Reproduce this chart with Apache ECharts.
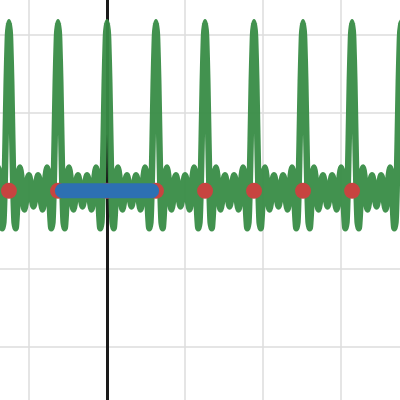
<!DOCTYPE html>
<html>
<head>
<meta charset="utf-8">
<script src="https://cdn.jsdelivr.net/npm/echarts@6/dist/echarts.min.js"></script>
<style>html,body{margin:0;padding:0;background:#fff}#c{width:400px;height:400px}</style>
</head>
<body>
<div id="c"></div>
<script>
// One period of the green curve (x offset from a peak, y value)
const periodX = [-3.14,-3.0,-2.86,-2.71,-2.57,-2.43,-2.29,-2.14,-2.0,-1.86,-1.71,-1.57,-1.43,-1.29,-1.14,-1.0,-0.86,-0.71,-0.57,-0.43,-0.29,-0.14,0,
                 0.14,0.29,0.43,0.57,0.71,0.86,1.0,1.14,1.29,1.43,1.57,1.71,1.86,2.0,2.14,2.29,2.43,2.57,2.71,2.86,3.0,3.14];
const periodY = [-1.0,-0.7,0,0.7,1.0,0.8,0,-0.8,-1.2,-0.9,0,1.0,1.5,1.2,0,-1.5,-2.4,-2.0,0,3.3,7.0,9.8,10.8,
                 9.8,7.0,3.3,0,-2.0,-2.4,-1.5,0,1.2,1.5,1.0,0,-0.9,-1.2,-0.8,0,0.8,1.0,0.7,0,-0.7,-1.0];
// Peak positions (x) of the green curve
const peakCenters = [-12.57,-6.28,0,6.28,12.57,18.85,25.13,31.42,37.70];
// Red points
const dotX = [-12.57,-6.28,0,6.28,12.57,18.85,25.13,31.42,37.70];
const dotY = [0,0,0,0,0,0,0,0,0];
// Blue segment
const segX = [-5.72,5.72];
const segY = [0,0];
// Grid line positions
const gridXTicks = [-10,10,20,30];
const gridYTicks = [-10,-5,5,10];

const curve = [];
peakCenters.forEach((c, pi) => {
  periodX.forEach((dx, i) => {
    if (pi > 0 && i === 0) return;
    curve.push([c + dx, periodY[i]]);
  });
});
const dots = dotX.map((x, i) => [x, dotY[i]]);
const seg = segX.map((x, i) => [x, segY[i]]);
const gridLines = gridXTicks.map(v => ({xAxis: v})).concat(gridYTicks.map(v => ({yAxis: v})));

const chart = echarts.init(document.getElementById('c'), null, {renderer: 'canvas'});
chart.setOption({
  animation: false,
  backgroundColor: '#ffffff',
  grid: {left: 0, right: 0, top: 0, bottom: 0, containLabel: false},
  xAxis: {
    type: 'value', min: -13.718, max: 37.564,
    axisLine: {show: false}, axisTick: {show: false}, axisLabel: {show: false},
    splitLine: {show: false}
  },
  yAxis: {
    type: 'value', min: -13.41, max: 12.23,
    axisLine: {show: true, onZero: true, lineStyle: {color: '#1a1a1a', width: 3}},
    axisTick: {show: false}, axisLabel: {show: false},
    splitLine: {show: false}
  },
  series: [
    {
      type: 'line', data: [], z: 0, silent: true,
      markLine: {
        z: 0, silent: true, symbol: ['none', 'none'], label: {show: false},
        lineStyle: {color: '#dcdcdc', width: 1.5, type: 'solid'},
        emphasis: {disabled: true},
        data: gridLines
      }
    },
    {
      type: 'line', data: curve, showSymbol: false, smooth: 0.2,
      lineStyle: {color: '#388c46', width: 6.5, opacity: 0.95, join: 'round', cap: 'round'}, z: 2
    },
    {
      type: 'scatter', data: dots, symbolSize: 16,
      itemStyle: {color: '#c74440', opacity: 1}, z: 3
    },
    {
      type: 'line', data: seg, showSymbol: false,
      lineStyle: {color: '#2d70b3', width: 15, cap: 'round'}, z: 4
    }
  ]
});
</script>
</body>
</html>
